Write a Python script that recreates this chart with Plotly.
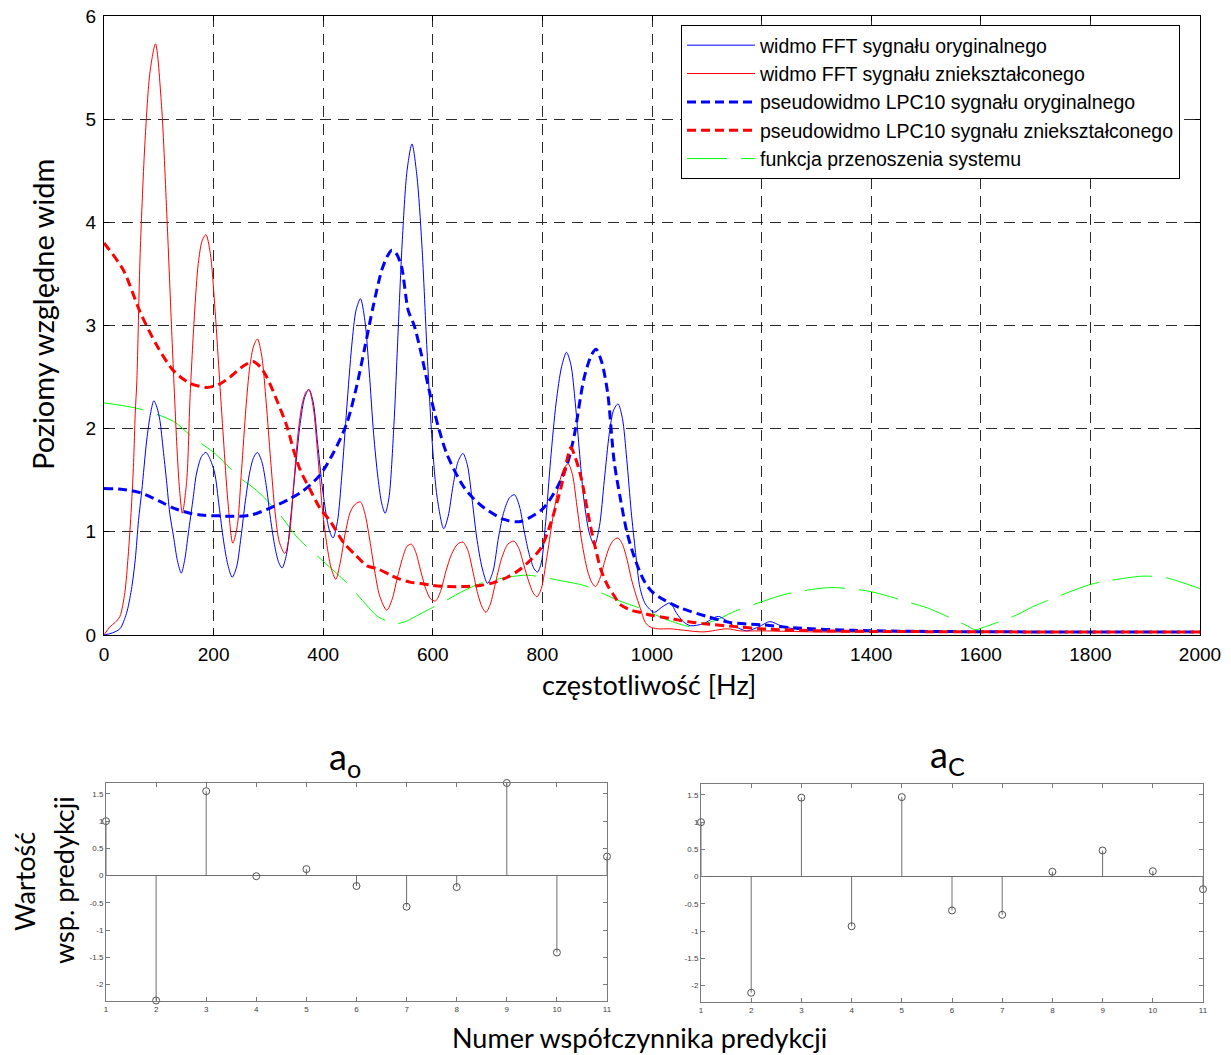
import plotly.graph_objects as go

W, H = 1231, 1055

# ---------------- spectra: relative level vs frequency [Hz] ----------------
fft_orig_hz = [0, 15, 29, 41, 50, 57, 63, 69, 78, 85, 91, 97, 102, 108, 114, 120, 127, 134, 141, 147,
               154, 162, 169, 178, 186, 194, 202, 210, 218, 226, 234, 242, 250, 258, 266, 273, 280, 288,
               296, 304, 312, 319, 325, 333, 341, 350, 358, 366, 374, 382, 390, 398, 406, 412, 418, 426,
               434, 443, 452, 460, 468, 476, 484, 492, 500, 507, 513, 520, 529, 535, 544, 553, 562, 571,
               580, 590, 599, 608, 620, 628, 637, 646, 655, 663, 672, 680, 690, 700, 710, 720, 730, 740,
               749, 758, 767, 776, 785, 791, 798, 806, 815, 825, 835, 844, 852, 860, 868, 876, 886, 895,
               904, 913, 922, 930, 938, 946, 954, 962, 970, 978, 988, 1004, 1018, 1033, 1045, 1057, 1070,
               1094, 1121, 1149, 1173, 1195, 1215, 1235, 1258, 1300, 1400, 1600, 1800, 2000]
fft_orig_lvl = [0.0, 0.02, 0.06, 0.21, 0.44, 0.73, 1.11, 1.40, 1.89, 2.15, 2.27, 2.20, 2.08, 1.80, 1.50,
                1.18, 0.95, 0.72, 0.60, 0.72, 0.99, 1.30, 1.57, 1.73, 1.77, 1.70, 1.57, 1.25, 0.92, 0.68,
                0.56, 0.66, 0.95, 1.30, 1.58, 1.72, 1.77, 1.68, 1.45, 1.12, 0.85, 0.70, 0.65, 0.78, 1.15,
                1.65, 2.05, 2.30, 2.38, 2.25, 1.85, 1.45, 1.15, 1.00, 0.94, 1.10, 1.55, 2.20, 2.80, 3.15,
                3.26, 3.05, 2.55, 1.95, 1.52, 1.27, 1.18, 1.33, 2.03, 2.73, 3.79, 4.50, 4.76, 4.45, 3.79,
                2.70, 1.86, 1.33, 1.03, 1.15, 1.45, 1.68, 1.76, 1.65, 1.30, 0.95, 0.65, 0.50, 0.62, 0.95,
                1.20, 1.33, 1.36, 1.25, 1.00, 0.78, 0.64, 0.61, 0.70, 1.10, 1.70, 2.25, 2.60, 2.74, 2.62,
                2.25, 1.75, 1.30, 0.98, 0.87, 1.05, 1.50, 1.95, 2.18, 2.24, 2.10, 1.70, 1.20, 0.80, 0.46,
                0.30, 0.22, 0.27, 0.31, 0.21, 0.13, 0.09, 0.11, 0.18, 0.09, 0.04, 0.08, 0.13, 0.09, 0.06,
                0.04, 0.035, 0.03, 0.03, 0.03]

fft_dist_hz = [0, 11, 20, 29, 38, 44, 50, 54, 57, 60, 66, 75, 84, 94, 105, 115, 124, 133, 138, 143, 151,
               157, 165, 172, 179, 186, 194, 202, 210, 218, 226, 235, 243, 251, 259, 266, 273, 280, 288,
               296, 304, 312, 320, 330, 338, 346, 354, 362, 369, 374, 382, 390, 398, 406, 414, 423, 431,
               440, 450, 459, 468, 476, 485, 494, 503, 516, 526, 535, 545, 553, 561, 569, 578, 587, 596,
               605, 614, 624, 634, 645, 655, 664, 673, 682, 690, 697, 705, 715, 726, 737, 748, 757, 766,
               775, 783, 790, 798, 808, 818, 828, 838, 847, 855, 863, 872, 882, 890, 897, 905, 914, 922,
               930, 938, 946, 955, 962, 970, 978, 988, 996, 1010, 1033, 1060, 1094, 1137, 1161, 1200,
               1300, 1500, 1800, 2000]
fft_dist_lvl = [0.0, 0.08, 0.12, 0.18, 0.41, 0.76, 1.24, 1.67, 2.15, 2.47, 3.70, 4.80, 5.46, 5.73, 5.13,
                4.03, 2.89, 1.83, 1.40, 1.18, 1.50, 2.30, 3.10, 3.60, 3.82, 3.88, 3.70, 3.20, 2.55, 1.90,
                1.30, 0.89, 1.05, 1.60, 2.20, 2.60, 2.80, 2.87, 2.70, 2.25, 1.70, 1.20, 0.90, 0.79, 0.95,
                1.45, 1.95, 2.25, 2.36, 2.38, 2.20, 1.75, 1.25, 0.90, 0.66, 0.54, 0.70, 0.98, 1.20, 1.27,
                1.29, 1.18, 0.92, 0.62, 0.38, 0.24, 0.35, 0.55, 0.75, 0.86, 0.88, 0.80, 0.62, 0.45, 0.35,
                0.33, 0.42, 0.62, 0.78, 0.88, 0.90, 0.82, 0.62, 0.40, 0.27, 0.22, 0.30, 0.52, 0.75, 0.88,
                0.91, 0.84, 0.68, 0.52, 0.41, 0.37, 0.45, 0.75, 1.10, 1.40, 1.60, 1.66, 1.55, 1.25, 0.90,
                0.63, 0.51, 0.47, 0.55, 0.72, 0.85, 0.92, 0.94, 0.88, 0.72, 0.55, 0.40, 0.27, 0.12, 0.08,
                0.06, 0.06, 0.045, 0.03, 0.06, 0.04, 0.04, 0.03, 0.03, 0.03, 0.03]

lpc_orig_hz = [0, 35, 66, 100, 127, 157, 182, 210, 230, 266, 303, 339, 364, 394, 418, 443, 461, 476,
               491, 507, 518, 525, 533, 543, 555, 566, 577, 596, 611, 626, 657, 687, 730, 760, 800,
               827, 845, 858, 876, 890, 898, 908, 919, 931, 943, 955, 970, 986, 1000, 1022, 1053, 1100,
               1144, 1198, 1258, 1368, 1500, 1700, 2000]
lpc_orig_lvl = [1.42, 1.41, 1.38, 1.30, 1.23, 1.18, 1.16, 1.155, 1.15, 1.16, 1.23, 1.32, 1.40, 1.55,
                1.76, 2.05, 2.41, 2.79, 3.18, 3.54, 3.68, 3.73, 3.70, 3.57, 3.15, 3.00, 2.77, 2.31,
                2.00, 1.75, 1.43, 1.26, 1.12, 1.10, 1.22, 1.43, 1.65, 1.93, 2.49, 2.72, 2.77, 2.65, 2.35,
                1.68, 1.30, 0.98, 0.72, 0.52, 0.42, 0.34, 0.26, 0.18, 0.12, 0.10, 0.07, 0.045, 0.035,
                0.03, 0.03]

lpc_dist_hz = [0, 35, 66, 96, 127, 157, 188, 210, 230, 255, 272, 285, 297, 315, 334, 346, 358, 376,
               394, 412, 438, 460, 480, 500, 523, 541, 560, 577, 600, 626, 660, 687, 712, 736, 755, 773,
               797, 815, 834, 845, 852, 860, 870, 888, 907, 920, 931, 941, 962, 978, 1000, 1033, 1053,
               1094, 1155, 1198, 1307, 1400, 1700, 2000]
lpc_dist_lvl = [3.80, 3.54, 3.13, 2.81, 2.56, 2.44, 2.40, 2.43, 2.50, 2.61, 2.65, 2.60, 2.50, 2.28, 2.02,
                1.79, 1.60, 1.41, 1.23, 1.11, 0.89, 0.77, 0.67, 0.64, 0.58, 0.54, 0.51, 0.50, 0.48, 0.47,
                0.47, 0.48, 0.51, 0.56, 0.62, 0.70, 0.84, 1.08, 1.43, 1.70, 1.82, 1.72, 1.54, 1.05, 0.63,
                0.47, 0.38, 0.30, 0.24, 0.22, 0.19, 0.16, 0.14, 0.11, 0.08, 0.06, 0.04, 0.035, 0.03, 0.03]

system_hz = [0, 66, 127, 163, 200, 249, 279, 322, 352, 401, 444, 474, 499, 515, 532, 550, 565, 590, 626,
             657, 687, 736, 773, 800, 840, 876, 907, 941, 978, 1000, 1029, 1071, 1089, 1120, 1147, 1199,
             1247, 1324, 1357, 1400, 1473, 1504, 1571, 1590, 1600, 1668, 1693, 1800, 1827, 1894, 1934,
             1961, 2000]
system_lvl = [2.25, 2.19, 2.07, 1.91, 1.77, 1.52, 1.40, 1.16, 0.95, 0.71, 0.50, 0.32, 0.18, 0.14, 0.11,
              0.13, 0.17, 0.24, 0.34, 0.43, 0.50, 0.56, 0.58, 0.56, 0.52, 0.48, 0.41, 0.33, 0.26, 0.21,
              0.145, 0.08, 0.10, 0.15, 0.22, 0.32, 0.40, 0.46, 0.45, 0.42, 0.31, 0.26, 0.10, 0.05, 0.065,
              0.20, 0.27, 0.49, 0.52, 0.57, 0.56, 0.52, 0.45]

legend_names = [
    "widmo FFT sygnału oryginalnego",
    "widmo FFT sygnału zniekształconego",
    "pseudowidmo LPC10 sygnału oryginalnego",
    "pseudowidmo LPC10 sygnału zniekształconego",
    "funkcja przenoszenia systemu",
]

x_ticks = [0, 200, 400, 600, 800, 1000, 1200, 1400, 1600, 1800, 2000]
y_ticks = [0, 1, 2, 3, 4, 5, 6]

# ---------------- prediction coefficients ----------------
coef_idx = [1, 2, 3, 4, 5, 6, 7, 8, 9, 10, 11]
a_orig = [1.0, -2.29, 1.55, -0.01, 0.12, -0.19, -0.57, -0.21, 1.70, -1.41, 0.35]
a_dist = [1.0, -2.13, 1.45, -0.91, 1.46, -0.62, -0.70, 0.09, 0.48, 0.10, -0.23]
coef_yticks = [-2, -1.5, -1, -0.5, 0, 0.5, 1, 1.5]
coef_yticktext = ["-2", "-1.5", "-1", "-0.5", "0", "0.5", "1", "1.5"]

ARIAL = "Liberation Sans, Arial, sans-serif"
HUMAN = "Lato, Open Sans, sans-serif"


def px_x(p):
    return p / W


def px_y(p):
    return 1 - p / H


fig = go.Figure()

# main panel traces
main_styles = [
    (fft_orig_hz, fft_orig_lvl, dict(color="#0000ff", width=1)),
    (fft_dist_hz, fft_dist_lvl, dict(color="#ff0000", width=1)),
    (lpc_orig_hz, lpc_orig_lvl, dict(color="#0000ff", width=3, dash="9px,5px")),
    (lpc_dist_hz, lpc_dist_lvl, dict(color="#ff0000", width=3, dash="9px,5px")),
    (system_hz, system_lvl, dict(color="#00ff00", width=1, dash="40px,14px")),
]
draw_order = [4, 0, 1, 2, 3]
for i in draw_order:
    xs, ys, ln = main_styles[i]
    fig.add_trace(go.Scatter(
        x=xs, y=ys, mode="lines", name=legend_names[i],
        line=dict(shape="spline", smoothing=0.8, **ln),
        legendrank=i + 1, xaxis="x", yaxis="y",
        hoverinfo="skip",
    ))


def stem_xy(idx, vals):
    xs, ys = [], []
    for k, v in zip(idx, vals):
        xs += [k, k, None]
        ys += [0, v, None]
    return xs, ys


for coefs, xa, ya in [(a_orig, "x2", "y2"), (a_dist, "x3", "y3")]:
    sx, sy = stem_xy(coef_idx, coefs)
    fig.add_trace(go.Scatter(x=sx, y=sy, mode="lines", line=dict(color="#6e6e6e", width=1),
                             showlegend=False, xaxis=xa, yaxis=ya, hoverinfo="skip"))
    fig.add_trace(go.Scatter(x=coef_idx, y=coefs, mode="markers",
                             marker=dict(symbol="circle-open", size=7, color="#505050",
                                         line=dict(width=1, color="#505050")),
                             cliponaxis=False, showlegend=False, xaxis=xa, yaxis=ya))

grid_common = dict(showgrid=True, gridcolor="#2a2a2a", gridwidth=1, griddash="11px,7px",
                   showline=True, linecolor="black", linewidth=1, mirror="ticks",
                   ticks="inside", ticklen=5, tickcolor="black",
                   tickfont=dict(family=ARIAL, size=19, color="black"),
                   zeroline=False, automargin=False)

small_common = dict(showgrid=False, showline=True, linecolor="#7a7a7a", linewidth=1, mirror="ticks",
                    ticks="inside", ticklen=4, tickcolor="#7a7a7a",
                    tickfont=dict(family=ARIAL, size=8, color="#404040"), automargin=False)

fig.update_layout(
    width=W, height=H,
    margin=dict(l=0, r=0, t=0, b=0),
    paper_bgcolor="white", plot_bgcolor="white",
    font=dict(family=ARIAL, size=19, color="black"),
    xaxis=dict(domain=[px_x(104), px_x(1200)], range=[0, 2000], tickvals=x_ticks,
               anchor="y", ticklabelstandoff=2, **grid_common),
    yaxis=dict(domain=[px_y(635), px_y(16)], range=[0, 6], tickvals=y_ticks,
               anchor="x", ticklabelstandoff=3, **grid_common),
    xaxis2=dict(domain=[px_x(106), px_x(607)], range=[1, 11], tickvals=coef_idx, anchor="y2",
                zeroline=False, **small_common),
    yaxis2=dict(domain=[px_y(1001), px_y(783)], range=[-2.3, 1.7], tickvals=coef_yticks,
                ticktext=coef_yticktext, anchor="x2", zeroline=True, zerolinecolor="#6e6e6e",
                zerolinewidth=1, **small_common),
    xaxis3=dict(domain=[px_x(701), px_x(1203)], range=[1, 11], tickvals=coef_idx, anchor="y3",
                zeroline=False, **small_common),
    yaxis3=dict(domain=[px_y(1002), px_y(784)], range=[-2.3, 1.7], tickvals=coef_yticks,
                ticktext=coef_yticktext, anchor="x3", zeroline=True, zerolinecolor="#6e6e6e",
                zerolinewidth=1, **small_common),
    legend=dict(x=px_x(681), y=px_y(25), xanchor="left", yanchor="top",
                bgcolor="white", bordercolor="black", borderwidth=1,
                font=dict(family=ARIAL, size=19.5, color="black"),
                itemwidth=68, traceorder="normal", tracegroupgap=0),
    showlegend=True,
)

annotations = [
    dict(text="częstotliwość [Hz]", x=px_x(649), y=px_y(684), font=dict(family=HUMAN, size=27)),
    dict(text="Poziomy względne widm", x=px_x(42), y=px_y(315), textangle=-90,
         font=dict(family=HUMAN, size=29)),
    dict(text="a<sub>o</sub>", x=px_x(345), y=px_y(758), font=dict(family=HUMAN, size=36)),
    dict(text="a<sub>C</sub>", x=px_x(947), y=px_y(756), font=dict(family=HUMAN, size=36)),
    dict(text="Wartość", x=px_x(24), y=px_y(882), textangle=-90, font=dict(family=HUMAN, size=27)),
    dict(text="wsp. predykcji", x=px_x(63), y=px_y(880), textangle=-90,
         font=dict(family=HUMAN, size=27)),
    dict(text="Numer współczynnika predykcji", x=px_x(639), y=px_y(1037),
         font=dict(family=HUMAN, size=27)),
]
for a in annotations:
    fig.add_annotation(xref="paper", yref="paper", showarrow=False, xanchor="center",
                       yanchor="middle", font_color="black", **a)

fig.write_html("out.html")
